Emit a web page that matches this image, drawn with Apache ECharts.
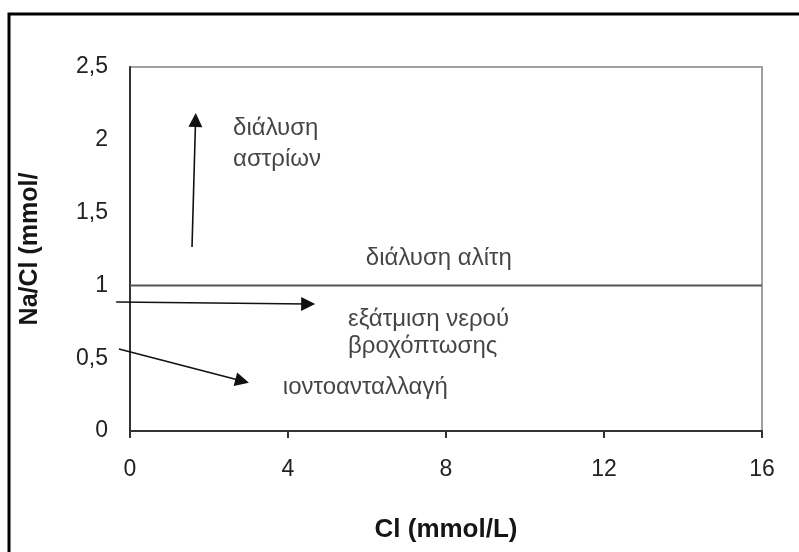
<!DOCTYPE html>
<html>
<head>
<meta charset="utf-8">
<script src="https://cdn.jsdelivr.net/npm/echarts@6/dist/echarts.min.js"></script>
<style>
  html, body { margin: 0; padding: 0; background: #fff; }
  #chart { width: 799px; height: 552px; }
</style>
</head>
<body>
<div id="chart"></div>
<script>
// Axis ranges and ticks
const xTicks = [0, 4, 8, 12, 16];
const yTicks = [0, 0.5, 1, 1.5, 2, 2.5];

// Reference line Na/Cl = 1 across the Cl range
const refLine = [[0, 1], [16, 1]];

// Process arrows: [start, end] in (Cl, Na/Cl)
const arrowDissolutionSilicates = [[1.57, 1.264], [1.66, 2.136]];
const arrowEvaporation = [[-0.35, 0.886], [4.51, 0.872]];
const arrowIonExchange = [[-0.28, 0.563], [2.84, 0.343]];

// Process labels and where they sit (Cl, Na/Cl)
const labelTexts = ['διάλυση\nαστρίων', 'διάλυση αλίτη', 'εξάτμιση νερού\nβροχόπτωσης', 'ιοντοανταλλαγή'];
const labelPoints = [[2.61, 1.975], [5.97, 1.188], [5.52, 0.673], [3.87, 0.302]];

const FONT = "'Liberation Sans', Arial, sans-serif";
const TEXT = '#151515';

const chart = echarts.init(document.getElementById('chart'), null, { renderer: 'canvas' });

chart.setOption({
  animation: false,
  backgroundColor: '#ffffff',
  graphic: [{
    type: 'rect',
    shape: { x: 9, y: 14, width: 900, height: 700 },
    style: { fill: 'none', stroke: '#000', lineWidth: 3 },
    silent: true
  }],
  grid: {
    left: 130, right: 37, top: 67, bottom: 121,
    show: true, borderColor: '#a0a0a0', borderWidth: 2, backgroundColor: 'transparent'
  },
  xAxis: {
    type: 'value',
    min: xTicks[0], max: xTicks[xTicks.length - 1], interval: 4,
    name: 'Cl (mmol/L)',
    nameLocation: 'middle', nameGap: 86,
    nameTextStyle: { fontFamily: FONT, fontWeight: 'bold', fontSize: 26, color: TEXT },
    axisLine: { onZero: false, lineStyle: { color: '#333', width: 2 } },
    axisTick: { show: true, length: 7, lineStyle: { color: '#333', width: 2 } },
    axisLabel: { margin: 27, fontFamily: FONT, fontSize: 23, color: '#222' },
    splitLine: { show: false }
  },
  yAxis: {
    type: 'value',
    min: yTicks[0], max: yTicks[yTicks.length - 1], interval: 0.5,
    name: 'Na/Cl (mmol/',
    nameLocation: 'middle', nameGap: 87, nameRotate: 90,
    nameTextStyle: { fontFamily: FONT, fontWeight: 'bold', fontSize: 25, color: TEXT },
    axisLine: { onZero: false, lineStyle: { color: '#333', width: 2 } },
    axisTick: { show: false },
    axisLabel: {
      margin: 22, fontFamily: FONT, fontSize: 23, color: '#222',
      formatter: v => String(v).replace('.', ',')
    },
    splitLine: { show: false }
  },
  series: [
    {
      type: 'line',
      data: refLine,
      symbol: 'none',
      lineStyle: { color: '#555', width: 2 },
      silent: true
    },
    {
      type: 'lines',
      coordinateSystem: 'cartesian2d',
      clip: false,
      symbol: ['none', 'triangle'],
      symbolSize: [12, 14],
      lineStyle: { color: '#111', width: 1.6, opacity: 1 },
      data: [
        { coords: arrowDissolutionSilicates },
        { coords: arrowEvaporation },
        { coords: arrowIonExchange }
      ],
      silent: true
    },
    {
      type: 'scatter',
      clip: false,
      symbolSize: 0,
      silent: true,
      data: labelPoints.map((p, i) => ({
        value: p,
        name: labelTexts[i],
        label: { lineHeight: i === 0 ? 31 : 27 }
      })),
      label: {
        show: true,
        position: 'right',
        distance: 0,
        formatter: p => p.name,
        fontFamily: FONT,
        fontSize: 24,
        color: TEXT,
        align: 'left'
      }
    }
  ]
});
</script>
</body>
</html>
